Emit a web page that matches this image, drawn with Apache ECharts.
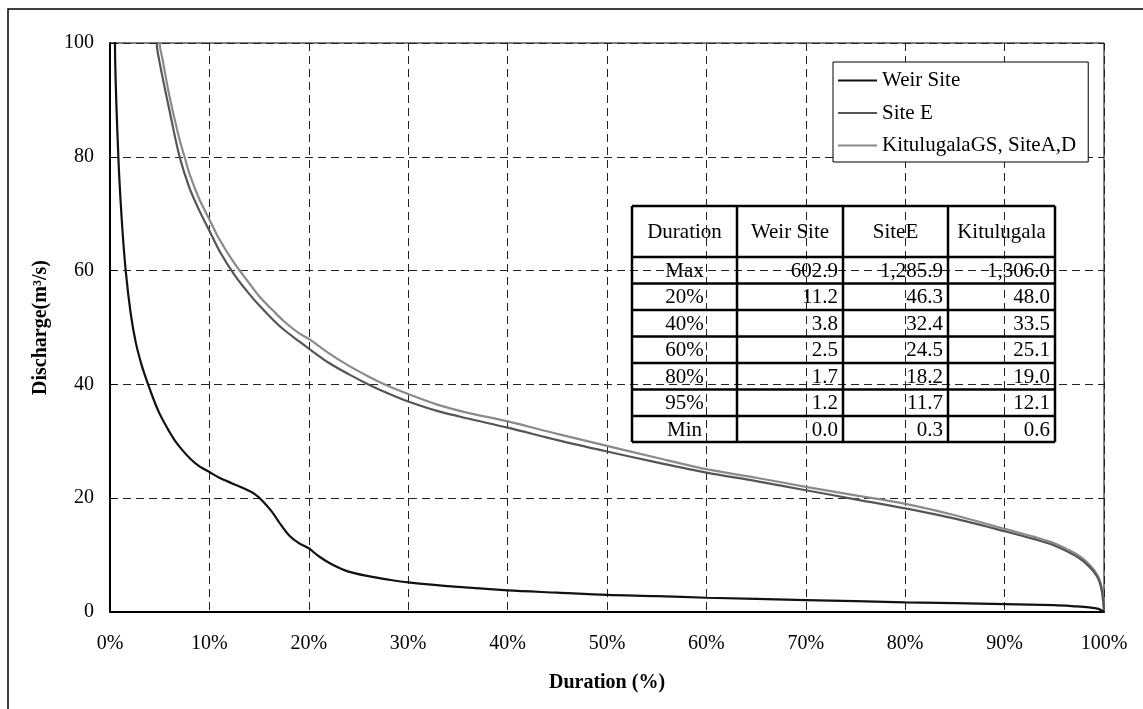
<!DOCTYPE html>
<html>
<head>
<meta charset="utf-8">
<script src="https://cdn.jsdelivr.net/npm/echarts@6/dist/echarts.min.js"></script>
<style>
html,body{margin:0;padding:0;background:#fff;}
#chart{width:1143px;height:709px;}
</style>
</head>
<body>
<div id="chart"></div>
<script>
// ---- Data ----
var seriesNames = ['Weir Site', 'Site E', 'KitulugalaGS, SiteA,D'];
var weirDur = [0, 0.5, 0.84, 1.2, 1.58, 2.08, 2.6, 3.2, 3.77, 4.4, 4.95, 5.7, 6.46, 7.3, 8.1, 9, 10, 11, 12.3, 13.5, 14.5, 15.3, 16.3, 17, 18, 19, 20, 21, 22.3, 24, 26, 28, 30, 35, 40, 45, 50, 55, 60, 70, 80, 90, 95, 97, 98.5, 99.5, 100];
var weirQ   = [602.9, 100, 80, 68.5, 60, 52.5, 47.3, 43.3, 40.3, 37.3, 35, 32.5, 30.3, 28.4, 26.9, 25.6, 24.6, 23.6, 22.6, 21.7, 20.8, 19.6, 17.6, 15.8, 13.5, 12.1, 11.2, 9.8, 8.4, 7.1, 6.3, 5.7, 5.2, 4.4, 3.8, 3.4, 3.0, 2.8, 2.5, 2.1, 1.7, 1.4, 1.2, 1.0, 0.8, 0.5, 0.0];
var siteEDur = [0, 4.7, 5, 6, 7, 8, 9, 10, 11, 12.5, 14, 15, 16.5, 17.5, 19, 20, 22, 24, 26, 28, 30, 33, 36, 40, 45, 50, 55, 60, 65, 70, 75, 80, 85, 90, 93, 95, 97, 98, 99, 99.5, 99.8, 100];
var siteEQ   = [1285.9, 100, 96.5, 88, 80, 74.5, 70.5, 67, 63.5, 59.3, 55.9, 53.9, 51.2, 49.6, 47.6, 46.3, 43.8, 41.8, 40, 38.4, 37, 35.3, 34, 32.4, 30.2, 28.2, 26.3, 24.5, 23, 21.4, 19.8, 18.2, 16.4, 14.2, 12.8, 11.7, 10.0, 8.8, 7.0, 5.5, 3.5, 0.3];
var kituDur = [0, 5.0, 5.3, 6, 7, 7.5, 8, 9, 10, 11, 12.5, 14, 15, 16.5, 17.5, 19, 20, 22, 24, 26, 28, 30, 33, 36, 40, 45, 50, 55, 60, 65, 70, 75, 80, 85, 90, 93, 95, 97, 98, 99, 99.5, 99.8, 100];
var kituQ   = [1306.0, 100, 97, 90.5, 83, 80, 77, 72.5, 69, 65.5, 61.3, 57.8, 55.5, 52.8, 51.1, 49, 48, 45.5, 43.3, 41.4, 39.7, 38.3, 36.4, 35, 33.5, 31.3, 29.2, 27.1, 25.1, 23.6, 22, 20.5, 19.0, 17, 14.6, 13.2, 12.1, 10.4, 9.2, 7.4, 5.9, 4.0, 0.6];

var tableHeader = ['Duration', 'Weir Site', 'SiteE', 'Kitulugala'];
var tableRowLabels = ['Max', '20%', '40%', '60%', '80%', '95%', 'Min'];
var tableWeir = ['602.9', '11.2', '3.8', '2.5', '1.7', '1.2', '0.0'];
var tableSiteE = ['1,285.9', '46.3', '32.4', '24.5', '18.2', '11.7', '0.3'];
var tableKitu = ['1,306.0', '48.0', '33.5', '25.1', '19.0', '12.1', '0.6'];

// ---- Build ----
var FONT = "'Liberation Serif','Times New Roman',serif";
function pairs(xs, ys) { return xs.map(function (x, i) { return [x, ys[i]]; }); }

// table layout (pixels)
var colX = [632, 737, 843, 948, 1055];
var rowY = [206, 257, 283.5, 310, 336.5, 363, 389.5, 416, 442];
var tableCols = [tableRowLabels, tableWeir, tableSiteE, tableKitu];

var graphics = [];
graphics.push({ type: 'rect', shape: { x: 8, y: 9, width: 1200, height: 800 },
  style: { fill: 'none', stroke: '#000', lineWidth: 1.5 }, silent: true, z: 0 });
colX.forEach(function (x) {
  graphics.push({ type: 'line', shape: { x1: x, y1: rowY[0], x2: x, y2: rowY[rowY.length - 1] },
    style: { stroke: '#000', lineWidth: 2.5 }, z: 100 });
});
rowY.forEach(function (y) {
  graphics.push({ type: 'line', shape: { x1: colX[0], y1: y, x2: colX[colX.length - 1], y2: y },
    style: { stroke: '#000', lineWidth: 2.5 }, z: 100 });
});
tableHeader.forEach(function (h, c) {
  graphics.push({ type: 'text', x: (colX[c] + colX[c + 1]) / 2, y: (rowY[0] + rowY[1]) / 2 + 1, z: 100,
    style: { text: h, font: '21px ' + FONT, fill: '#000', textAlign: 'center', textVerticalAlign: 'middle' } });
});
tableCols.forEach(function (col, c) {
  col.forEach(function (v, r) {
    var yc = (rowY[r + 1] + rowY[r + 2]) / 2 + 1;
    var isLabel = c === 0;
    graphics.push({ type: 'text', x: isLabel ? (colX[0] + colX[1]) / 2 : colX[c + 1] - 5, y: yc, z: 100,
      style: { text: v, font: '21px ' + FONT, fill: '#000', textAlign: isLabel ? 'center' : 'right', textVerticalAlign: 'middle' } });
  });
});

var lineIcon = 'path://M0,0 L40,0 L40,2 L0,2 Z';
var chart = echarts.init(document.getElementById('chart'), null, { renderer: 'canvas' });
chart.setOption({
  backgroundColor: '#fff',
  animation: false,
  textStyle: { fontFamily: FONT },
  grid: { left: 110, top: 43, width: 994, height: 569, show: true, borderColor: '#000', borderWidth: 1, backgroundColor: 'transparent' },
  legend: {
    orient: 'vertical', left: 833, top: 62,
    padding: [8, 12, 6, 5], itemGap: 11.5, itemWidth: 39, itemHeight: 2,
    backgroundColor: '#fff', borderColor: '#000', borderWidth: 1,
    textStyle: { fontSize: 21, fontFamily: FONT, color: '#000', lineHeight: 20 },
    data: seriesNames.map(function (n) { return { name: n, icon: lineIcon }; })
  },
  xAxis: {
    type: 'value', min: 0, max: 100, interval: 10,
    name: 'Duration (%)', nameLocation: 'middle', nameGap: 61,
    nameTextStyle: { fontSize: 20, fontWeight: 'bold', fontFamily: FONT, color: '#000' },
    axisLine: { show: true, lineStyle: { color: '#000', width: 2 } },
    axisTick: { show: false },
    axisLabel: { formatter: '{value}%', fontSize: 20, fontFamily: FONT, color: '#000', margin: 22 },
    splitLine: { show: true, lineStyle: { color: '#222', type: [8, 5], width: 1 } }
  },
  yAxis: {
    type: 'value', min: 0, max: 100, interval: 20,
    name: 'Discharge(m³/s)', nameLocation: 'middle', nameGap: 59,
    nameTextStyle: { fontSize: 20, fontWeight: 'bold', fontFamily: FONT, color: '#000' },
    axisLine: { show: true, lineStyle: { color: '#000', width: 2 } },
    axisTick: { show: true, inside: true, length: 7, lineStyle: { color: '#000' } },
    axisLabel: { fontSize: 20, fontFamily: FONT, color: '#000', margin: 16 },
    splitLine: { show: true, lineStyle: { color: '#222', type: [8, 5], width: 1 } }
  },
  series: [
    { name: seriesNames[0], type: 'line', data: pairs(weirDur, weirQ), showSymbol: false, symbol: 'none',
      smooth: 0.3,
      lineStyle: { color: '#111', width: 2.2 }, itemStyle: { color: '#111' }, clip: true, z: 5 },
    { name: seriesNames[1], type: 'line', data: pairs(siteEDur, siteEQ), showSymbol: false, symbol: 'none',
      smooth: 0.3,
      lineStyle: { color: '#555', width: 2.2 }, itemStyle: { color: '#555' }, clip: true, z: 4 },
    { name: seriesNames[2], type: 'line', data: pairs(kituDur, kituQ), showSymbol: false, symbol: 'none',
      smooth: 0.3,
      lineStyle: { color: '#8a8a8a', width: 2.2 }, itemStyle: { color: '#8a8a8a' }, clip: true, z: 3 }
  ],
  graphic: graphics
});
</script>
</body>
</html>
